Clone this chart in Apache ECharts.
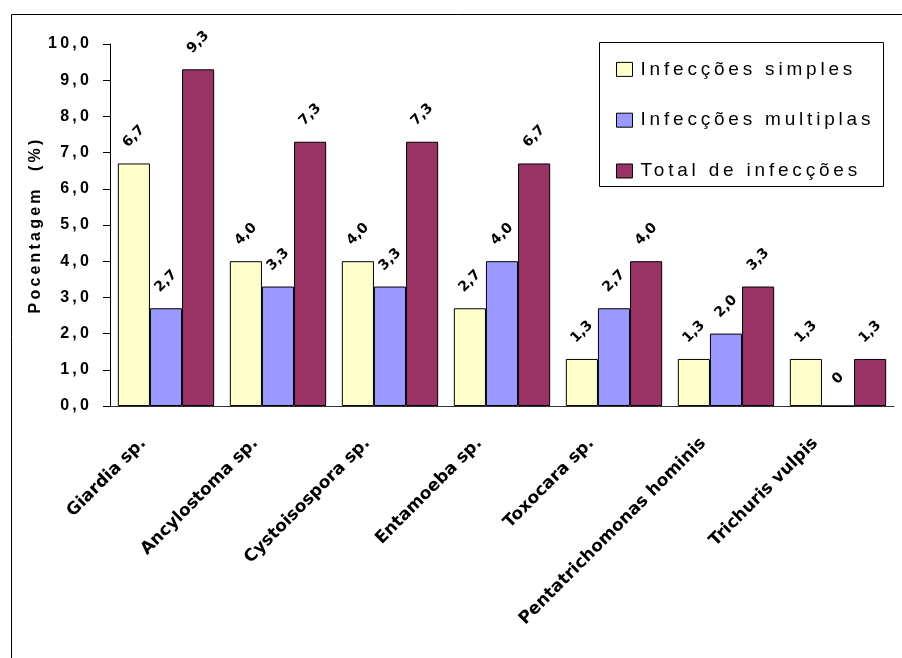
<!DOCTYPE html>
<html>
<head>
<meta charset="utf-8">
<script src="https://cdn.jsdelivr.net/npm/echarts@6/dist/echarts.min.js"></script>
<style>
  html, body { margin: 0; padding: 0; background: #ffffff; }
  #chart { width: 902px; height: 658px; }
</style>
</head>
<body>
<div id="chart"></div>
<script>
// Parasites found
const categories = [
  'Giardia sp.',
  'Ancylostoma sp.',
  'Cystoisospora sp.',
  'Entamoeba sp.',
  'Toxocara sp.',
  'Pentatrichomonas hominis',
  'Trichuris vulpis'
];

// Percentages per infection type
const simples   = [6.7, 4.0, 4.0, 2.7, 1.3, 1.3, 1.3];
const multiplas = [2.7, 3.3, 3.3, 4.0, 2.7, 2.0, 0];
const total     = [9.3, 7.3, 7.3, 6.7, 4.0, 3.3, 1.3];

const seriesNames = ['Infecções simples', 'Infecções multiplas', 'Total de infecções'];
const seriesColors = ['#FFFFCC', '#9999FF', '#993366'];

// Y axis: 0,0 … 10,0
const yTickLabels = ['0,0', '1,0', '2,0', '3,0', '4,0', '5,0', '6,0', '7,0', '8,0', '9,0', '10,0'];

// Upright text: spaced Liberation Sans. Slanted text: wider DejaVu Sans, unspaced.
const FONT = '"Liberation Sans", Arial, sans-serif';
const FONT_SLANT = '"DejaVu Sans", sans-serif';

// Widely spaced lettering: assigning a Liberation Sans font on a 2D canvas
// also sets a letter spacing of 0.2em, so measuring and drawing both use it.
(function () {
  const proto = window.CanvasRenderingContext2D && CanvasRenderingContext2D.prototype;
  if (!proto || !('letterSpacing' in proto)) return;
  const fontDesc = Object.getOwnPropertyDescriptor(proto, 'font');
  Object.defineProperty(proto, 'font', {
    configurable: true,
    enumerable: fontDesc.enumerable,
    get: function () { return fontDesc.get.call(this); },
    set: function (v) {
      fontDesc.set.call(this, v);
      const s = String(v);
      const m = /(\d+(?:\.\d+)?)px/.exec(s);
      this.letterSpacing = (m && s.indexOf('Liberation Sans') >= 0)
        ? (parseFloat(m[1]) * 0.2).toFixed(2) + 'px' : '0px';
    }
  });
})();

function valueLabel(v) {
  return v === 0 ? '0' : v.toFixed(1).replace('.', ',');
}

function barSeries(name, data, color) {
  return {
    name: name,
    type: 'bar',
    data: data,
    barGap: '0%',
    barCategoryGap: '14%',
    itemStyle: { color: color, borderColor: '#000000', borderWidth: 1 },
    label: {
      show: true,
      position: 'top',
      distance: 27,
      rotate: 45,
      align: 'center',
      verticalAlign: 'middle',
      fontFamily: FONT_SLANT,
      fontSize: 14,
      fontWeight: 'bold',
      color: '#000000',
      formatter: function (p) { return valueLabel(p.value); }
    },
    emphasis: { disabled: true },
    animation: false
  };
}

const chart = echarts.init(document.getElementById('chart'), null, { renderer: 'canvas' });

chart.setOption({
  backgroundColor: '#ffffff',
  animation: false,
  textStyle: { fontFamily: FONT },
  grid: { left: 110, right: 8, top: 44, bottom: 252, containLabel: false },
  graphic: [{
    type: 'rect',
    left: 9, top: 12,
    shape: { x: 0.5, y: 0.5, width: 910, height: 670 },
    style: { fill: 'none', stroke: '#000000', lineWidth: 1 },
    silent: true, z: 100
  }, {
    type: 'rect',
    left: 599, top: 42,
    shape: { x: 0.5, y: 0.5, width: 284, height: 144 },
    style: { fill: '#ffffff', stroke: '#000000', lineWidth: 1 },
    silent: true, z: 1
  }],
  legend: {
    show: true,
    orient: 'vertical',
    left: 616,
    top: 58,
    padding: 0,
    itemWidth: 16,
    itemHeight: 14,
    itemGap: 28,
    icon: 'rect',
    selectedMode: false,
    z: 10,
    itemStyle: { borderColor: '#000000', borderWidth: 1 },
    textStyle: { fontFamily: FONT, fontSize: 19, lineHeight: 18, color: '#000000', padding: [0, 0, 0, 3] },
    data: seriesNames
  },
  xAxis: {
    type: 'category',
    data: categories,
    axisLine: { show: true, lineStyle: { color: '#333333', width: 1 } },
    axisTick: { show: false },
    axisLabel: {
      interval: 0,
      rotate: 45,
      margin: 12,
      padding: [0, 32, 0, 0],
      fontFamily: FONT_SLANT,
      fontSize: 17,
      fontWeight: 'bold',
      color: '#000000'
    },
    splitLine: { show: false }
  },
  yAxis: {
    type: 'value',
    min: 0,
    max: 10,
    interval: 1,
    name: 'Pocentagem  (%)',
    nameLocation: 'middle',
    nameGap: 65,
    nameMoveOverlap: false,
    nameTextStyle: { fontFamily: FONT, fontSize: 16, fontWeight: 'bold', color: '#000000' },
    axisLine: { show: true, lineStyle: { color: '#000000', width: 1 } },
    axisTick: { show: true, inside: false, length: 7, lineStyle: { color: '#000000' } },
    axisLabel: {
      margin: 18,
      fontFamily: FONT,
      fontSize: 16,
      fontWeight: 'bold',
      color: '#000000',
      formatter: function (v) { return yTickLabels[Math.round(v)]; }
    },
    splitLine: { show: false }
  },
  series: [
    barSeries(seriesNames[0], simples, seriesColors[0]),
    barSeries(seriesNames[1], multiplas, seriesColors[1]),
    barSeries(seriesNames[2], total, seriesColors[2])
  ]
});
</script>
</body>
</html>
